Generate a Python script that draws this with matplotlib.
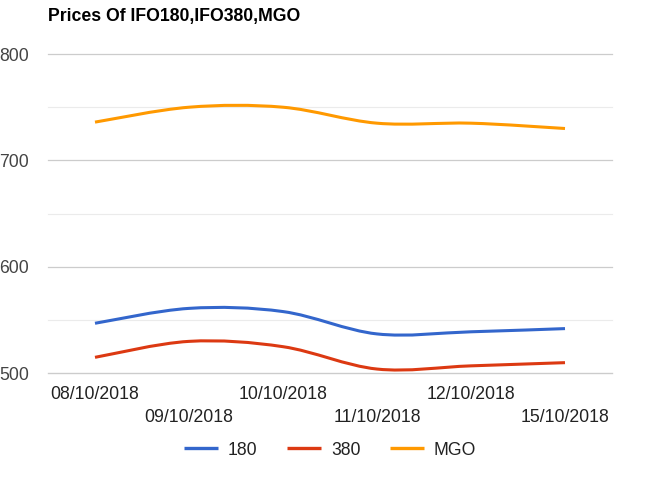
import matplotlib
matplotlib.use("Agg")
import matplotlib.pyplot as plt
from matplotlib.path import Path
from matplotlib.patches import PathPatch
from matplotlib.lines import Line2D

dates = ["08/10/2018", "09/10/2018", "10/10/2018", "11/10/2018", "12/10/2018", "15/10/2018"]
ifo180 = [547, 561, 558, 537, 539, 542]
ifo380 = [515, 530, 525, 504, 507, 510]
mgo = [736, 750, 750, 735, 735, 730]
series_names = ["180", "380", "MGO"]
colors = ["#3366cc", "#dc3912", "#ff9900"]
y_ticks = [500, 600, 700, 800]
y_minor = [550, 650, 750]

plt.rcParams['font.family'] = ['Liberation Sans', 'DejaVu Sans']

W, H = 650, 490
fig = plt.figure(figsize=(W / 100, H / 100), dpi=100)
ax = fig.add_axes([48 / W, 1 - 373.3 / H, (612 - 48) / W, (373.3 - 54) / H])

ax.set_xlim(-0.5, len(dates) - 0.5)
ax.set_ylim(500, 800)

for v in y_minor:
    ax.axhline(v, color="#ebebeb", lw=0.8, zorder=1, clip_on=False)
for v in y_ticks:
    ax.axhline(v, color="#cccccc", lw=1.0 if v == 500 else 0.9, zorder=1, clip_on=False)


def smooth_path(xs, ys):
    pts = list(zip(xs, ys))
    n = len(pts)
    verts = [pts[0]]
    codes = [Path.MOVETO]
    for i in range(n - 1):
        p0 = pts[i - 1] if i > 0 else pts[i]
        p1 = pts[i]
        p2 = pts[i + 1]
        p3 = pts[i + 2] if i + 2 < n else pts[i + 1]
        c1 = (p1[0] + (p2[0] - p0[0]) / 6, p1[1] + (p2[1] - p0[1]) / 6)
        c2 = (p2[0] - (p3[0] - p1[0]) / 6, p2[1] - (p3[1] - p1[1]) / 6)
        verts += [c1, c2, p2]
        codes += [Path.CURVE4] * 3
    return Path(verts, codes)


xs = list(range(len(dates)))
handles = []
for vals, name, c in zip([ifo180, ifo380, mgo], series_names, colors):
    patch = PathPatch(smooth_path(xs, vals), fill=False, edgecolor=c, lw=2.2,
                      capstyle='butt', joinstyle='round', zorder=3)
    ax.add_patch(patch)
    handles.append(Line2D([], [], color=c, lw=2.4, solid_capstyle='butt', label=name))

for s in ax.spines.values():
    s.set_visible(False)

ax.set_yticks(y_ticks)
ax.set_yticklabels([str(v) for v in y_ticks])
ax.tick_params(axis='y', length=0, pad=13.5, labelsize=12.7, labelcolor="#444444")
ax.set_xticks(xs)
ax.set_xticklabels(dates)
ax.tick_params(axis='x', length=0, labelsize=12.7, labelcolor="#222222")
for i, t in enumerate(ax.xaxis.get_major_ticks()):
    t.set_pad(9.5 if i % 2 == 0 else 26.0)

fig.text(48 / W, 1 - 17 / H, "Prices Of IFO180,IFO380,MGO", fontsize=12.7,
         fontweight='bold', color="#000000", ha='left', va='center')

leg = fig.legend(handles=handles, loc='center', bbox_to_anchor=(330 / W, 1 - 450 / H),
                 ncol=3, frameon=False, fontsize=12.7, handlelength=1.95,
                 handletextpad=0.55, columnspacing=1.65, borderpad=0)
for t in leg.get_texts():
    t.set_color("#222222")

fig.savefig("out.png", dpi=100)
